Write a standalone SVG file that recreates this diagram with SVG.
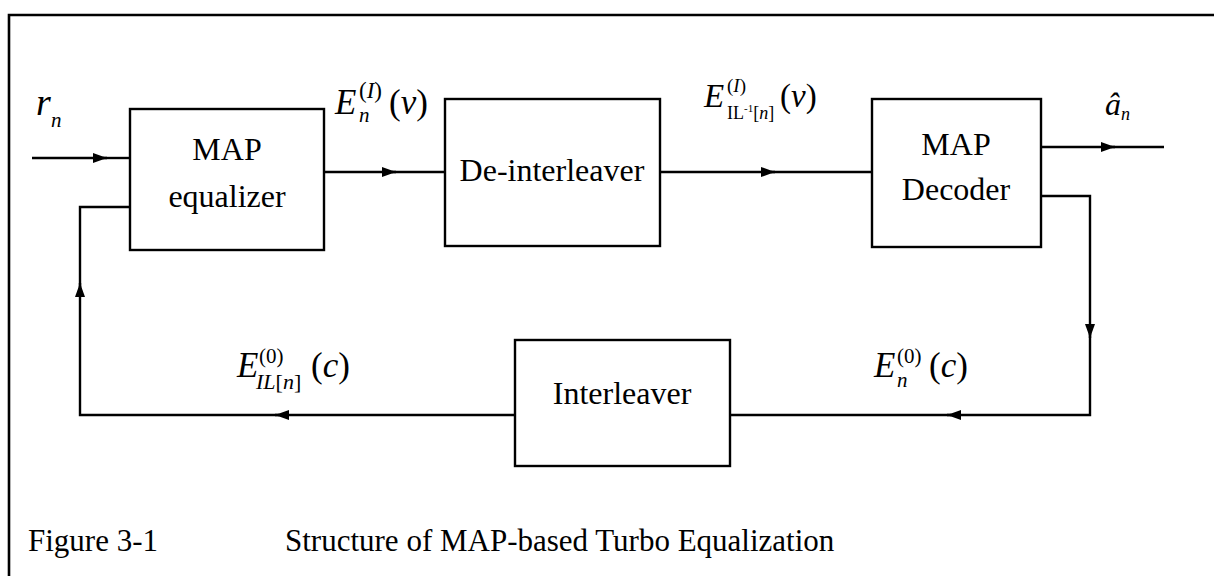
<svg xmlns="http://www.w3.org/2000/svg" width="1214" height="576" viewBox="0 0 1214 576">
  <style>
    .box { fill: #fff; stroke: #000; stroke-width: 2.4; }
    .wire { fill: none; stroke: #000; stroke-width: 2.4; }
    .frame { fill: none; stroke: #000; stroke-width: 2.6; }
    .lbl { font-family: "Liberation Serif", "Times New Roman", serif; font-size: 32px; fill: #000; }
    .m { font-family: "Liberation Serif", "Times New Roman", serif; font-size: 35px; fill: #000; }
    .m2 { font-family: "Liberation Serif", "Times New Roman", serif; font-size: 33px; fill: #000; }
    .s { font-family: "Liberation Serif", "Times New Roman", serif; font-size: 21px; fill: #000; }
    .s2 { font-family: "Liberation Serif", "Times New Roman", serif; font-size: 18px; fill: #000; }
    .xs { font-size: 11px; }
    .it { font-style: italic; }
    .up { font-style: normal; }
    .cap { font-family: "Liberation Serif", "Times New Roman", serif; font-size: 31px; fill: #000; }
  </style>
  <defs>
    <marker id="ah" markerUnits="userSpaceOnUse" markerWidth="14" markerHeight="10" refX="14" refY="5" orient="auto">
      <path d="M0,0 L14,5 L0,10 Z" fill="#000"/>
    </marker>
  </defs>
  <rect width="1214" height="576" fill="#fff"/>

  <!-- outer frame: top and left rules only -->
  <path class="frame" d="M9,576 V15 H1214"/>

  <!-- connectors -->
  <g id="connectors">
    <!-- input r_n -->
    <path class="wire" d="M32,158 H107" marker-end="url(#ah)"/>
    <path class="wire" d="M103,158 H130"/>
    <!-- equalizer to de-interleaver -->
    <path class="wire" d="M324,172 H396" marker-end="url(#ah)"/>
    <path class="wire" d="M392,172 H445"/>
    <!-- de-interleaver to decoder -->
    <path class="wire" d="M660,172 H775" marker-end="url(#ah)"/>
    <path class="wire" d="M771,172 H872"/>
    <!-- decoder output -->
    <path class="wire" d="M1041,147 H1115" marker-end="url(#ah)"/>
    <path class="wire" d="M1111,147 H1164"/>
    <!-- decoder feedback down to interleaver -->
    <path class="wire" d="M1041,196 H1090 V338" marker-end="url(#ah)"/>
    <path class="wire" d="M1090,334 V415 H947" marker-end="url(#ah)"/>
    <path class="wire" d="M951,415 H730"/>
    <!-- interleaver back to equalizer -->
    <path class="wire" d="M515,415 H275" marker-end="url(#ah)"/>
    <path class="wire" d="M279,415 H80 V283" marker-end="url(#ah)"/>
    <path class="wire" d="M80,287 V207 H130"/>
  </g>

  <g id="equalizer">
    <rect class="box" x="130" y="109" width="194" height="141"/>
    <text class="lbl" x="227" y="160" text-anchor="middle">MAP</text>
    <text class="lbl" x="227" y="207" text-anchor="middle">equalizer</text>
  </g>

  <g id="deinterleaver">
    <rect class="box" x="445" y="99" width="215" height="147"/>
    <text class="lbl" x="552" y="181" text-anchor="middle">De-interleaver</text>
  </g>

  <g id="decoder">
    <rect class="box" x="872" y="99" width="169" height="148"/>
    <text class="lbl" x="956" y="155" text-anchor="middle">MAP</text>
    <text class="lbl" x="956" y="200" text-anchor="middle">Decoder</text>
  </g>

  <g id="interleaver">
    <rect class="box" x="515" y="340" width="215" height="126"/>
    <text class="lbl" x="622" y="404" text-anchor="middle">Interleaver</text>
  </g>

  <!-- signal labels -->
  <g id="labels">
    <!-- r_n -->
    <text class="m it" x="36" y="115" style="font-size:38px">r</text>
    <text class="s it" x="51" y="127">n</text>

    <!-- E_n^(I)(v) -->
    <text class="m it" x="335" y="114">E</text>
    <text class="s" x="359" y="98" style="font-size:23px">(<tspan class="it">I</tspan>)</text>
    <text class="s it" x="359" y="122">n</text>
    <text class="m" x="389" y="114">(<tspan class="it">v</tspan>)</text>

    <!-- E_{IL^-1[n]}^(I)(v) -->
    <text class="m2 it" x="704" y="107">E</text>
    <text class="s" x="727" y="92" style="font-size:19px">(<tspan class="it">I</tspan>)</text>
    <text class="s2" x="727" y="119">IL<tspan class="xs" dy="-7">-1</tspan><tspan dy="7">[<tspan class="it">n</tspan>]</tspan></text>
    <text class="m2" x="780" y="107">(<tspan class="it">v</tspan>)</text>

    <!-- a_n hat -->
    <text class="m it" x="1105" y="115" style="font-size:32px">â</text>
    <text class="s2 it" x="1121" y="120">n</text>

    <!-- E_{IL[n]}^(0)(c) -->
    <text class="m it" x="237" y="377">E</text>
    <text class="s" x="259" y="363">(0)</text>
    <text class="s it" x="256" y="389" style="font-size:22px">IL<tspan class="up">[</tspan>n<tspan class="up">]</tspan></text>
    <text class="m" x="311" y="377">(<tspan class="it">c</tspan>)</text>

    <!-- E_n^(0)(c) -->
    <text class="m it" x="874" y="377">E</text>
    <text class="s" x="897" y="363">(0)</text>
    <text class="s it" x="897" y="387">n</text>
    <text class="m" x="929" y="377">(<tspan class="it">c</tspan>)</text>
  </g>

  <g id="caption">
    <text class="cap" x="28" y="551">Figure 3-1</text>
    <text class="cap" x="285" y="551">Structure of MAP-based Turbo Equalization</text>
  </g>
</svg>
